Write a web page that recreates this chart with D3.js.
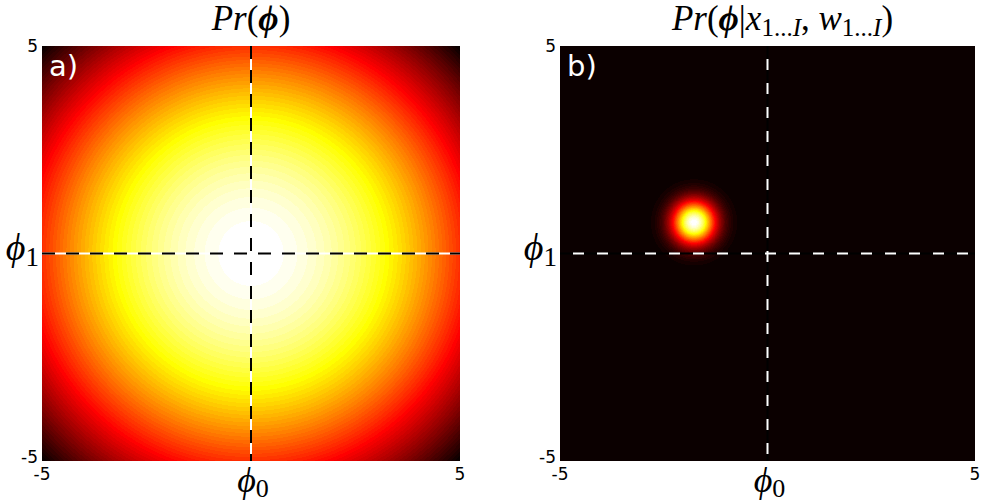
<!DOCTYPE html>
<html>
<head>
<meta charset="utf-8">
<script src="https://cdn.jsdelivr.net/npm/d3@7/dist/d3.min.js"></script>
<style>
  html, body { margin: 0; padding: 0; background: #ffffff; }
  svg { display: block; }
</style>
</head>
<body>
<svg id="chart" width="993" height="504"></svg>
<script>
// ---------------- data ----------------
const domainX = [-5, 5];
const domainY = [-5, 5];
const tickValues = [-5, 5];
const tickLabels = ["-5", "5"];
const panelLetters = ["a)", "b)"];
// prior: isotropic normal
const priorMean = [0, 0];
const priorSd = 7;
// posterior: isotropic normal
const postMean = [-1.77, 0.75];
const postSd = 0.36;
// dashed reference lines at these values
const refX = 0;
const refY = 0;

// ---------------- colormap (MATLAB hot, 64 levels) ----------------
const hot64 = d3.range(64).map(i => {
  const r = i < 24 ? (i + 1) / 24 : 1;
  const g = i < 24 ? 0 : (i < 48 ? (i - 23) / 24 : 1);
  const b = i < 48 ? 0 : (i - 47) / 16;
  return [Math.round(r * 255), Math.round(g * 255), Math.round(b * 255)];
});

const svg = d3.select("#chart");

const panels = [
  { x0: 42, x1: 460, y0: 46, y1: 461, mean: priorMean, sd: priorSd, dark: true, letter: panelLetters[0], titleShift: 0 },
  { x0: 560, x1: 975, y0: 46, y1: 461, mean: postMean, sd: postSd, dark: false, letter: panelLetters[1], titleShift: 15 }
];

function density(x, y, m, s) {
  const dx = x - m[0], dy = y - m[1];
  return Math.exp(-(dx * dx + dy * dy) / (2 * s * s));
}

panels.forEach((p, pi) => {
  const xs = d3.scaleLinear().domain(domainX).range([p.x0, p.x1]);
  const ys = d3.scaleLinear().domain(domainY).range([p.y1, p.y0]);
  const w = Math.round(p.x1 - p.x0), h = Math.round(p.y1 - p.y0);
  const vals = new Float64Array(w * h);
  let mn = Infinity, mx = -Infinity;
  for (let j = 0; j < h; j++) {
    const dy = ys.invert(p.y0 + j + 0.5);
    for (let i = 0; i < w; i++) {
      const dx = xs.invert(p.x0 + i + 0.5);
      const v = density(dx, dy, p.mean, p.sd);
      vals[j * w + i] = v;
      if (v < mn) mn = v;
      if (v > mx) mx = v;
    }
  }
  const cscale = d3.scaleQuantize().domain([mn, mx]).range(d3.range(64));
  const canvas = document.createElement("canvas");
  canvas.width = w; canvas.height = h;
  const ctx = canvas.getContext("2d");
  const img = ctx.createImageData(w, h);
  for (let k = 0; k < w * h; k++) {
    const c = hot64[cscale(vals[k])];
    img.data[4 * k] = c[0];
    img.data[4 * k + 1] = c[1];
    img.data[4 * k + 2] = c[2];
    img.data[4 * k + 3] = 255;
  }
  ctx.putImageData(img, 0, 0);
  svg.append("image")
    .attr("x", p.x0).attr("y", p.y0)
    .attr("width", w).attr("height", h)
    .attr("preserveAspectRatio", "none")
    .attr("href", canvas.toDataURL());

  // dashed reference lines
  const base = p.dark ? "#ffffff" : "#000000";
  const dash = p.dark ? "#000000" : "#ffffff";
  const dasharray = p.dark ? "13,11" : "11,13";
  const dashoff = p.dark ? 0 : 11;
  [base, dash].forEach((col, k) => {
    svg.append("line")
      .attr("x1", xs(refX)).attr("x2", xs(refX))
      .attr("y1", ys(domainY[1])).attr("y2", ys(domainY[0]))
      .attr("stroke", col).attr("stroke-width", 2)
      .attr("stroke-dasharray", k ? dasharray : null)
      .attr("stroke-dashoffset", k ? dashoff : null);
    svg.append("line")
      .attr("x1", xs(domainX[0])).attr("x2", xs(domainX[1]))
      .attr("y1", ys(refY)).attr("y2", ys(refY))
      .attr("stroke", col).attr("stroke-width", 2)
      .attr("stroke-dasharray", k ? dasharray : null)
      .attr("stroke-dashoffset", k ? dashoff : null);
  });

  // panel letter
  svg.append("text")
    .attr("x", p.x0 + 7).attr("y", p.y0 + 30)
    .attr("fill", "#ffffff")
    .attr("font-family", "DejaVu Sans, sans-serif")
    .attr("font-size", 29)
    .text(p.letter);

  // tick labels
  const tickFont = "DejaVu Sans, sans-serif";
  tickValues.forEach((t, k) => {
    svg.append("text")
      .attr("x", p.x0 - 4).attr("y", ys(t) + (t > 0 ? 6 : 2))
      .attr("text-anchor", "end")
      .attr("font-family", tickFont).attr("font-size", 17)
      .attr("fill", "#000").text(tickLabels[k]);
    svg.append("text")
      .attr("x", xs(t)).attr("y", p.y1 + 19)
      .attr("text-anchor", "middle")
      .attr("font-family", tickFont).attr("font-size", 17)
      .attr("fill", "#000").text(tickLabels[k]);
  });

  const mathFont = "Liberation Serif, DejaVu Serif, serif";
  // x-axis label phi_0
  const xl = svg.append("text")
    .attr("x", xs(0) + 2).attr("y", p.y1 + 31)
    .attr("text-anchor", "middle")
    .attr("font-family", mathFont).attr("font-size", 36)
    .attr("fill", "#000");
  xl.append("tspan").attr("font-style", "italic").text("\u03D5");
  xl.append("tspan").attr("font-size", 26).attr("dy", 5).text("0");

  // y-axis label phi_1
  const yl = svg.append("text")
    .attr("x", p.x0 - 3).attr("y", ys(0) + 6)
    .attr("text-anchor", "end")
    .attr("font-family", mathFont).attr("font-size", 38)
    .attr("fill", "#000");
  yl.append("tspan").attr("font-style", "italic").text("\u03D5");
  yl.append("tspan").attr("font-size", 27).attr("dy", 6).text("1");

  // title
  const tt = svg.append("text")
    .attr("x", (p.x0 + p.x1) / 2 + p.titleShift).attr("y", 30)
    .attr("text-anchor", "middle")
    .attr("font-family", mathFont).attr("font-size", 35)
    .attr("fill", "#000");
  tt.append("tspan").attr("font-style", "italic").text("Pr");
  tt.append("tspan").text("(");
  tt.append("tspan").attr("font-style", "italic").attr("font-weight", "bold").text("\u03D5");
  if (pi === 1) {
    tt.append("tspan").text("|");
    tt.append("tspan").attr("font-style", "italic").text("x");
    tt.append("tspan").attr("font-size", 25).attr("dy", 6).text("1...");
    tt.append("tspan").attr("font-size", 25).attr("font-style", "italic").text("I");
    tt.append("tspan").attr("dy", -6).text(", ");
    tt.append("tspan").attr("font-style", "italic").text("w");
    tt.append("tspan").attr("font-size", 25).attr("dy", 6).text("1...");
    tt.append("tspan").attr("font-size", 25).attr("font-style", "italic").text("I");
    tt.append("tspan").attr("dy", -6).text(")");
  } else {
    tt.append("tspan").text(")");
  }
});
</script>
</body>
</html>
